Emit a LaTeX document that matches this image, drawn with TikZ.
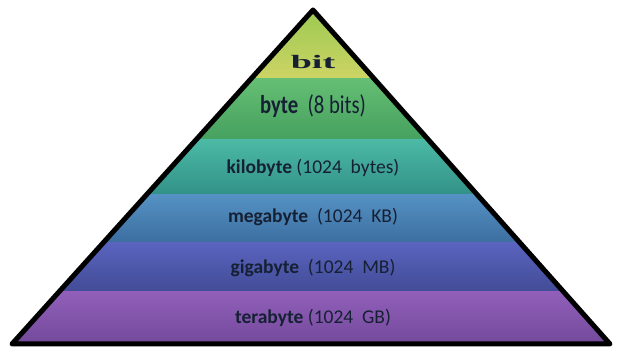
\documentclass[tikz,border=0pt]{standalone}
\usepackage{fontspec}
\setmainfont{Carlito}
\newfontfamily\bitfont{Liberation Serif}
\definecolor{txt}{RGB}{22,32,52}
\definecolor{bitT}{RGB}{150,200,80}
\definecolor{bitB}{RGB}{205,212,100}
\definecolor{byteT}{RGB}{100,190,115}
\definecolor{byteB}{RGB}{70,160,95}
\definecolor{kiloT}{RGB}{75,185,165}
\definecolor{kiloB}{RGB}{50,145,135}
\definecolor{megaT}{RGB}{85,145,195}
\definecolor{megaB}{RGB}{60,110,160}
\definecolor{gigaT}{RGB}{90,100,190}
\definecolor{gigaB}{RGB}{65,75,150}
\definecolor{teraT}{RGB}{145,95,185}
\definecolor{teraB}{RGB}{110,70,150}
\begin{document}
\begin{tikzpicture}[x=1pt,y=-1pt,
  lbl/.style={text=txt,inner sep=0pt,anchor=center},
  band/.style={draw=none}]
\useasboundingbox (0,0) rectangle (619,352);
\fill[white] (0,0) rectangle (619,352);
\coordinate (apex) at (313,10);
\coordinate (bl) at (12,344);
\coordinate (br) at (610,344);
\begin{scope}
\clip (apex) -- (bl) -- (br) -- cycle;
\shade[band,top color=bitT,bottom color=bitB] (0,0) rectangle (619,79);
\shade[band,top color=byteT,bottom color=byteB] (0,79) rectangle (619,140);
\shade[band,top color=kiloT,bottom color=kiloB] (0,140) rectangle (619,195);
\shade[band,top color=megaT,bottom color=megaB] (0,195) rectangle (619,243);
\shade[band,top color=gigaT,bottom color=gigaB] (0,243) rectangle (619,292);
\shade[band,top color=teraT,bottom color=teraB] (0,292) rectangle (619,352);
\end{scope}
\draw[line width=5pt,line join=round] (apex) -- (bl) -- (br) -- cycle;
\node[lbl] (bit) at (313,62) {\scalebox{2}[1]{\fontsize{19}{19}\bitfont\bfseries bit}};
\node[lbl] (byte) at (313,106) {\scalebox{0.9}[1.12]{\fontsize{23}{23}\selectfont\bfseries byte\ \ \mdseries(8 bits)}};
\node[lbl] (kilo) at (313,168) {\fontsize{19.5}{19.5}\selectfont\bfseries kilobyte \mdseries(1024\ \ bytes)};
\node[lbl] (mega) at (313,217) {\fontsize{19.5}{19.5}\selectfont\bfseries megabyte\ \ \mdseries(1024\ \ KB)};
\node[lbl] (giga) at (313,268) {\fontsize{19.5}{19.5}\selectfont\bfseries gigabyte\ \ \mdseries(1024\ \ MB)};
\node[lbl] (tera) at (313,318) {\fontsize{19.5}{19.5}\selectfont\bfseries terabyte \mdseries(1024\ \ GB)};
\end{tikzpicture}
\end{document}
